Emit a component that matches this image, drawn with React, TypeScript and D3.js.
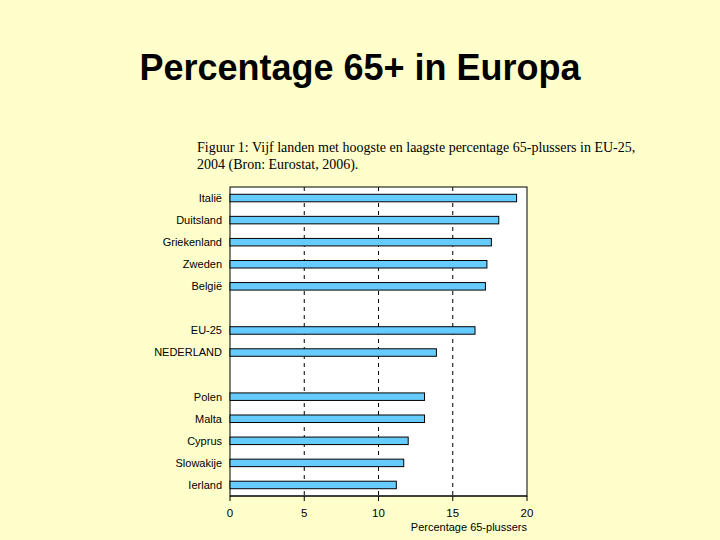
import React from 'react';
import * as d3 from 'd3';

// categories top to bottom; empty slots keep the gaps between groups
const countries = ['Italië', 'Duitsland', 'Griekenland', 'Zweden', 'België', 'gap1', 'EU-25', 'NEDERLAND', 'gap2', 'Polen', 'Malta', 'Cyprus', 'Slowakije', 'Ierland'];
const values = [19.3, 18.1, 17.6, 17.3, 17.2, null, 16.5, 13.9, null, 13.1, 13.1, 12.0, 11.7, 11.2];
const xTicks = [0, 5, 10, 15, 20];

const title = 'Percentage 65+ in Europa';
const captionLines = [
  'Figuur 1: Vijf landen met hoogste en laagste percentage 65-plussers in EU-25,',
  '2004 (Bron: Eurostat, 2006).',
];
const xLabel = 'Percentage 65-plussers';

export default function App() {
  const width = 720;
  const height = 540;
  const plot = { left: 230, right: 527, top: 187, bottom: 496 };

  const x = d3.scaleLinear().domain([0, 20]).range([plot.left, plot.right]);
  const y = d3.scaleBand<string>().domain(countries).range([plot.top, plot.bottom]).paddingInner(0.66).paddingOuter(0.33);

  const rows = countries.map((c, i) => ({ c, v: values[i] }));

  return (
    <svg width={width} height={height} style={{ position: 'absolute', left: 0, top: 0 }}
      fontFamily="'Liberation Sans', Arial, sans-serif">
      <rect width={width} height={height} fill="#ffffcc" />
      <text x={360} y={80} textAnchor="middle" fontSize={36} fontWeight="bold" fill="#000">{title}</text>
      {captionLines.map((l, i) => (
        <text key={i} x={197} y={152 + i * 17} fontSize={14} fontFamily="'Liberation Serif', 'Times New Roman', serif" fill="#000">{l}</text>
      ))}

      <rect x={plot.left} y={plot.top} width={plot.right - plot.left} height={plot.bottom - plot.top} fill="#fff" stroke="#000" strokeWidth={1} />

      {xTicks.slice(1, -1).map((t) => (
        <line key={t} x1={x(t)} x2={x(t)} y1={plot.top} y2={plot.bottom} stroke="#000" strokeDasharray="4,4" />
      ))}

      {rows.filter((r) => r.v != null).map((r) => (
        <g key={r.c}>
          <rect x={x(0)} y={y(r.c)!} width={x(r.v as number) - x(0)} height={y.bandwidth()} fill="#66ccff" stroke="#000" strokeWidth={1} />
          <text x={plot.left - 8} y={y(r.c)! + y.bandwidth() / 2} dy="0.35em" textAnchor="end" fontSize={11} fill="#000">{r.c}</text>
        </g>
      ))}

      <line x1={plot.left} x2={plot.right} y1={plot.bottom} y2={plot.bottom} stroke="#000" />
      {xTicks.map((t) => (
        <g key={t}>
          <line x1={x(t)} x2={x(t)} y1={plot.bottom} y2={plot.bottom + 5} stroke="#000" />
          <text x={x(t)} y={517} textAnchor="middle" fontSize={11.5} fill="#000">{t}</text>
        </g>
      ))}
      <text x={plot.right} y={531} textAnchor="end" fontSize={11} fill="#000">{xLabel}</text>
    </svg>
  );
}
